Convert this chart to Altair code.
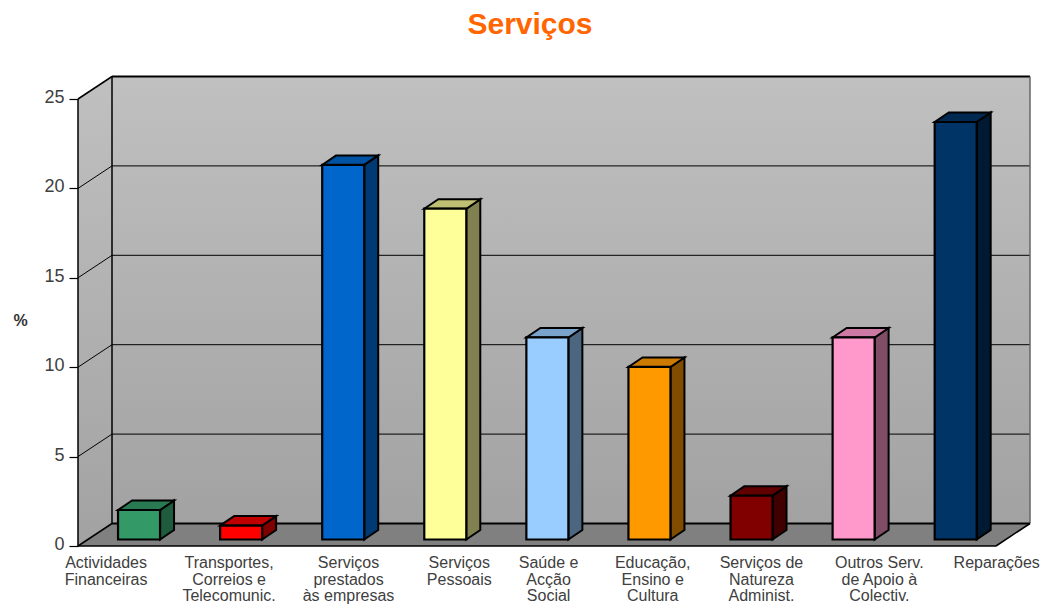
import altair as alt
import pandas as pd

title = "Serviços"
y_title = "%"
labels = ["Actividades\nFinanceiras", "Transportes,\nCorreios e\nTelecomunic.",
          "Serviços\nprestados\nàs empresas", "Serviços\nPessoais", "Saúde e\nAcção\nSocial",
          "Educação,\nEnsino e\nCultura", "Serviços de\nNatureza\nAdminist.",
          "Outros Serv.\nde Apoio à\nColectiv.", "Reparações"]
values = [1.65, 0.78, 20.95, 18.5, 11.3, 9.65, 2.45, 11.3, 23.35]
front = ["#339966", "#FF0000", "#0066CC", "#FFFF99", "#99CCFF", "#FF9900", "#800000", "#FF99CC", "#003366"]
side = ["#1F5C3D", "#800000", "#003A75", "#808050", "#4D6680", "#804D00", "#400000", "#804D66", "#001A33"]
top = ["#297A52", "#C00000", "#0052A3", "#BFBF73", "#7AA3CC", "#CC7A00", "#600000", "#CC7AA3", "#002952"]
ticks = [0, 5, 10, 15, 20, 25]

# layout (units: categories on x, percent on y)
PX_X, PX_Y = 102.08, 17.88
PLOT_W, PLOT_H = 952, 469
XMAX, YMAX = PLOT_W / PX_X, PLOT_H / PX_Y
N = len(labels)
DU, DV = 34 / PX_X, 22.5 / PX_Y          # chart depth
BU, BV = 14 / PX_X, 9.5 / PX_Y           # bar depth
BW = 42 / PX_X
BASE = 6.5 / PX_Y
BSHIFT = 0.598
LABEL_NUDGE = [-0.225, -0.02, 0.15, 0.235, 0.11, 0.13, 0.195, 0.35, 0.5]
FONT = "Liberation Sans"

y_axis_def = alt.Axis(
    values=ticks, title=y_title, titleAngle=0, titleFont=FONT, titleFontSize=16, titleFontWeight="bold",
    titleColor="#333333", titleX=-58, titleY=243, titleAlign="center", titleBaseline="middle",
    labelFont=FONT, labelFontSize=18, labelColor="#404040", labelPadding=5, labelOffset=-1.5,
    tickSize=9, tickColor="black", tickWidth=1.2, domain=False, grid=False)

X = alt.Scale(domain=[0, XMAX], nice=False, zero=False)
Y = alt.Scale(domain=[0, YMAX], nice=False, zero=False)
def ex(f="x"): return alt.X(f + ":Q", scale=X, axis=None)
def ey(f="y"): return alt.Y(f + ":Q", scale=Y, axis=y_axis_def)
x2 = alt.X2("x2:Q")
y2 = alt.Y2("y2:Q")

def grad(a, b):
    return alt.Gradient(gradient="linear", x1=0, y1=0, x2=0, y2=1,
                        stops=[alt.GradientStop(color=a, offset=0), alt.GradientStop(color=b, offset=1)])

def rule(x0, x1, y0, y1, color="black", w=1.5):
    return alt.Chart(pd.DataFrame([{"x": x0, "x2": x1, "y": y0, "y2": y1}])).mark_rule(
        color=color, strokeWidth=w).encode(x=ex(), x2=x2, y=ey(), y2=y2)

wall_top = ticks[-1]
left_wall = alt.Chart(pd.DataFrame([
    {"x": 0, "y": 0, "y2": wall_top}, {"x": DU, "y": DV, "y2": wall_top + DV}])).mark_area(
    color=grad("#c0c0c0", "#a2a2a2")).encode(x=ex(), y=ey(), y2=y2)
back_wall = alt.Chart(pd.DataFrame([{"x": DU, "x2": XMAX, "y": DV, "y2": wall_top + DV}])).mark_rect(
    color=grad("#c0c0c0", "#a2a2a2")).encode(x=ex(), x2=x2, y=ey(), y2=y2)
floor = alt.Chart(pd.DataFrame([
    {"y": 0, "x": 0, "x2": XMAX - DU}, {"y": DV, "x": DU, "x2": XMAX}])).mark_area(
    orient="horizontal", color="#808080").encode(y=ey(), x=ex(), x2=x2)

grid = []
for t in ticks[1:-1]:
    grid.append(rule(DU, XMAX, t + DV, t + DV, w=1))
    grid.append(rule(0, DU, t, t + DV, w=1))
frame = [
    rule(0, 0, 0, wall_top), rule(DU, DU, DV, wall_top + DV),
    rule(0, DU, wall_top, wall_top + DV), rule(DU, XMAX, wall_top + DV, wall_top + DV, w=2),
    rule(XMAX, XMAX, DV, wall_top + DV, color="#666666"),
    rule(DU, XMAX, DV, DV, w=2), rule(0, XMAX - DU, 0, 0),
    rule(0, DU, 0, DV), rule(XMAX - DU, XMAX, 0, DV),
]

front_rows, side_rows, top_rows = [], [], []
for i, v in enumerate(values):
    l = i + BSHIFT - BW / 2
    r = l + BW
    front_rows.append({"x": l, "x2": r, "y": BASE, "y2": BASE + v, "c": front[i]})
    side_rows += [{"id": i, "x": r, "y": BASE, "y2": BASE + v, "c": side[i]},
                  {"id": i, "x": r + BU, "y": BASE + BV, "y2": BASE + v + BV, "c": side[i]}]
    top_rows += [{"id": i, "y": BASE + v, "x": l, "x2": r, "c": top[i]},
                 {"id": i, "y": BASE + v + BV, "x": l + BU, "x2": r + BU, "c": top[i]}]

c_id = alt.Color("c:N", scale=None, legend=None)
bars_side = alt.Chart(pd.DataFrame(side_rows)).mark_area(stroke="black", strokeWidth=2, strokeJoin="miter").encode(
    x=ex(), y=ey(), y2=y2, color=c_id, detail="id:N")
bars_top = alt.Chart(pd.DataFrame(top_rows)).mark_area(orient="horizontal", stroke="black", strokeWidth=2, strokeJoin="miter").encode(
    y=ey(), x=ex(), x2=x2, color=c_id, detail="id:N")
bars_front = alt.Chart(pd.DataFrame(front_rows)).mark_rect(stroke="black", strokeWidth=2.2).encode(
    x=ex(), x2=x2, y=ey(), y2=y2, color=c_id)

label_df = pd.DataFrame({"x": [i + 0.5 + n for i, n in enumerate(LABEL_NUDGE)], "y": [0] * N, "label": labels})
x_labels = alt.Chart(label_df).mark_text(
    font=FONT, fontSize=16, color="#404040", baseline="top", align="center",
    lineBreak="\n", lineHeight=16.5, dy=9).encode(x=ex(), y=ey(), text="label:N")

chart = alt.layer(left_wall, back_wall, floor, *grid, *frame, bars_side, bars_top, bars_front, x_labels).properties(
    width=PLOT_W, height=PLOT_H,
    title=alt.TitleParams(title, font=FONT, fontSize=30, fontWeight="bold", color="#FF6600",
                          anchor="middle", dx=-24, offset=36),
    padding={"left": 70, "top": 69, "right": 11, "bottom": 58},
    autosize=alt.AutoSizeParams(type="none"),
    background="white",
).configure_view(stroke=None)

chart.save("out.html", embed_options={"renderer": "svg", "actions": False})
